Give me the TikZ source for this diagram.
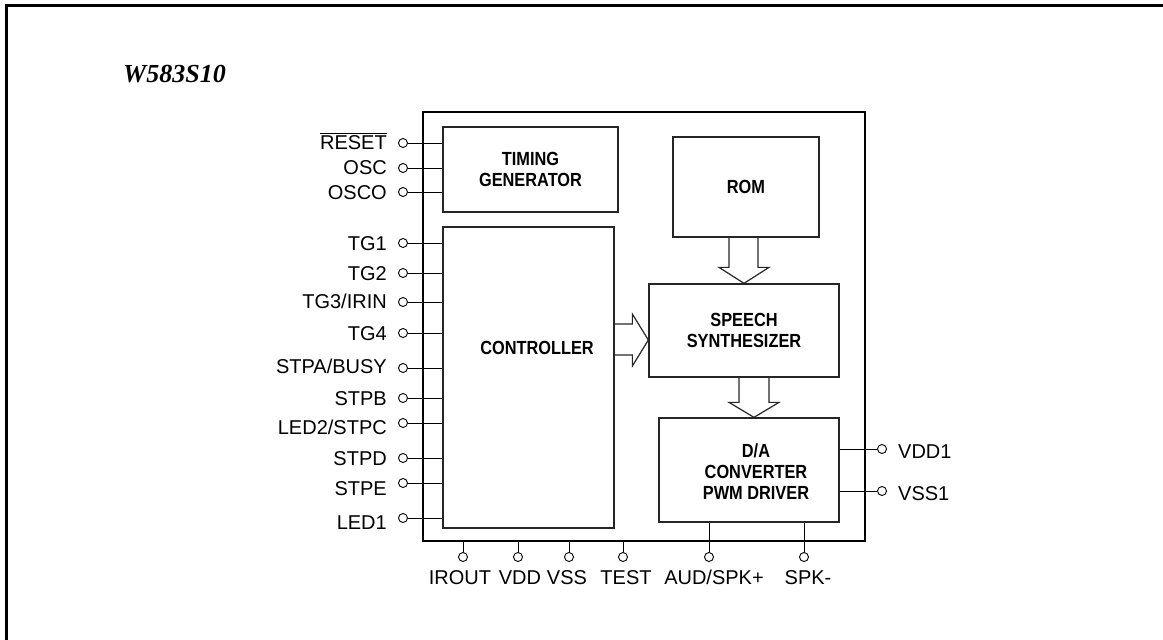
\documentclass[tikz,border=0pt]{standalone}
\usepackage{fontspec}
\setmainfont{Liberation Sans}
\newfontfamily\blkfont{Liberation Sans}[FakeStretch=0.86]
\newfontfamily\titlefont{Liberation Serif}
\usetikzlibrary{calc}
\begin{document}
\begin{tikzpicture}[x=1pt,y=-1pt,
  frameline/.style={line width=3pt},
  chipbox/.style={draw, line width=2pt, inner sep=0},
  blockbox/.style={draw=black!85, line width=1.3pt, inner sep=0, align=center,
    font=\blkfont\bfseries\fontsize{19}{21}\selectfont},
  blocktext/.style={inner sep=0, align=center, font=\blkfont\bfseries\fontsize{19}{21}\selectfont},
  pin/.style={circle, draw, fill=white, inner sep=0, minimum size=9pt, line width=0.9pt},
  wire/.style={line width=1pt},
  pinlabel/.style={inner sep=0, font=\fontsize{20}{24}\selectfont},
  bus/.style={draw=black!85, line width=1.2pt, line join=miter}
]
\useasboundingbox (0,0) rectangle (1163,640);
% outer frame (top and left edges only)
\draw[frameline] (6,640) -- (6,5) -- (1163,5);
% title
\node[anchor=base west, inner sep=0, font=\titlefont\bfseries\itshape\fontsize{26}{30}\selectfont] (title) at (123,82) {W583S10};

% chip and blocks
\node[chipbox, minimum width=442pt, minimum height=429pt] (chip) at (644,326.5) {};
\node[blockbox, minimum width=175pt, minimum height=85pt] (tg) at (530.5,169.5) {TIMING\\GENERATOR};
\node[blockbox, minimum width=171pt, minimum height=301pt] (ctl) at (528.5,377.5) {};
\node[blocktext] (ctltext) at (537,348) {CONTROLLER};
\node[blockbox, minimum width=146pt, minimum height=100pt] (rom) at (746,187) {ROM};
\node[blockbox, minimum width=190pt, minimum height=93pt] (syn) at (744,330.5) {SPEECH\\SYNTHESIZER};
\node[blockbox, minimum width=180pt, minimum height=104pt] (da) at (749,470) {};
\node[blocktext] (datext) at (756,472) {D/A\\CONVERTER\\PWM DRIVER};

% bus arrows
\draw[bus] ($(syn.north)+(-15,-47)$) -- ($(syn.north)+(-15,-16)$) -- ($(syn.north)+(-25,-16)$)
  -- (syn.north) -- ($(syn.north)+(25,-16)$) -- ($(syn.north)+(14,-16)$) -- ($(syn.north)+(14,-47)$);
\coordinate (datip) at ($(da.north)+(5,0)$);
\draw[bus] ($(datip)+(-15,-41)$) -- ($(datip)+(-15,-15)$) -- ($(datip)+(-25,-15)$)
  -- (datip) -- ($(datip)+(25,-15)$) -- ($(datip)+(15,-15)$) -- ($(datip)+(15,-41)$);
\coordinate (ctip) at ($(syn.west)+(0,9.5)$);
\draw[bus] ($(ctip)+(-35,-16)$) -- ($(ctip)+(-16,-16)$) -- ($(ctip)+(-16,-26)$)
  -- (ctip) -- ($(ctip)+(-16,26)$) -- ($(ctip)+(-16,15)$) -- ($(ctip)+(-35,15)$);

% left pins
\foreach \nm/\y/\ly/\blk/\txt in {
  rst/143/142/tg/{$\overline{\mbox{RESET}}$},
  osc/168/167/tg/{OSC},
  osco/192/192/tg/{OSCO},
  tga/243/243/ctl/{TG1},
  tgb/273/273/ctl/{TG2},
  tgc/302/301/ctl/{TG3/IRIN},
  tgd/333/333/ctl/{TG4},
  stpa/368/366/ctl/{STPA/BUSY},
  stpb/398/398/ctl/{STPB},
  stpc/423/427/ctl/{LED2/STPC},
  stpd/458/458/ctl/{STPD},
  stpe/483/488/ctl/{STPE},
  ledo/518/522/ctl/{LED1}}{
  \node[pin] (\nm) at (403,\y) {};
  \draw[wire] (\nm) -- (\nm -| \blk.west);
  \node[pinlabel, anchor=base east] (\nm lbl) at (387,\ly+7) {\txt};
}

% bottom pins
\foreach \nm/\x/\lx/\src/\txt in {
  irout/463/460/chip/{IROUT},
  vdd/518/520/chip/{VDD},
  vss/569/567/chip/{VSS},
  test/623/626/chip/{TEST},
  aud/709/714/da/{AUD/SPK+},
  spkm/804/808/da/{SPK-}}{
  \node[pin] (\nm) at (\x,557) {};
  \draw[wire] (\nm) -- (\nm |- \src.south);
  \node[pinlabel, anchor=base] (\nm lbl) at (\lx,584) {\txt};
}

% right pins
\foreach \nm/\y/\txt in {vddo/449/{VDD1}, vsso/491/{VSS1}}{
  \node[pin] (\nm) at (882,\y) {};
  \draw[wire] (\nm) -- (\nm -| da.east);
  \node[pinlabel, anchor=base west] (\nm lbl) at (898,\y+9) {\txt};
}
\end{tikzpicture}
\end{document}
